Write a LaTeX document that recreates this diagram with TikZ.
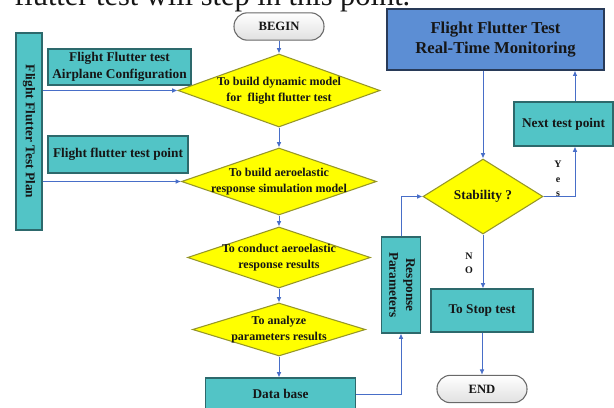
\documentclass[tikz,border=0pt]{standalone}
\usepackage{fontspec}
\setmainfont{Liberation Serif}
\usetikzlibrary{shapes.geometric,arrows.meta}
\definecolor{tealF}{RGB}{82,196,198}
\definecolor{tealB}{RGB}{45,105,108}
\definecolor{yelF}{RGB}{255,255,0}
\definecolor{yelB}{RGB}{150,150,40}
\definecolor{monF}{RGB}{92,142,212}
\definecolor{monB}{RGB}{40,58,88}
\definecolor{arr}{RGB}{72,110,200}
\definecolor{txt}{RGB}{22,22,22}
\definecolor{termB}{RGB}{105,105,105}
\begin{document}
\begin{tikzpicture}[x=0.75pt,y=-0.75pt,
  box/.style={draw=tealB, fill=tealF, line width=0.8pt, align=center, inner sep=1pt, text=txt,
    font=\fontsize{10}{12.5}\selectfont\bfseries},
  mon/.style={draw=monB, fill=monF, line width=0.9pt, align=center, inner sep=1pt, text=txt,
    font=\fontsize{12.5}{15}\selectfont\bfseries},
  dia/.style={diamond, draw=yelB, fill=yelF, line width=0.8pt, aspect=2.8, inner xsep=-20pt, inner ysep=-5pt,
    align=center, text=txt, font=\fontsize{9}{12}\selectfont\bfseries},
  term/.style={draw=termB, line width=0.8pt, rounded corners=10pt, top color=white, bottom color=black!12,
    minimum width=67.5pt, minimum height=20.5pt, inner sep=1pt, text=txt,
    font=\fontsize{9.5}{11}\selectfont\bfseries},
  conn/.style={draw=arr, line width=0.7pt, -{Latex[length=4pt,width=3.5pt]}},
  lbl/.style={align=center, inner sep=0pt, text=txt, font=\fontsize{7.5}{11}\selectfont\bfseries}]
\useasboundingbox (0,0) rectangle (614,407);
\clip (0,0) rectangle (614,407);
\fill[white] (0,0) rectangle (614,407);

\node[anchor=base west, inner sep=0pt, text=txt, font=\fontsize{22.8}{24}\selectfont] (cap) at (14,5) {flutter test will step in this point.};

% left column
\node[box, minimum width=19.5pt, minimum height=147.75pt] (plan) at (29,131.5) {\rotatebox{-90}{Flight Flutter Test Plan}};
\node[box, minimum width=107.25pt, minimum height=27pt] (conf) at (119.5,67) {Flight Flutter test\\Airplane Configuration};
\node[box, minimum width=105pt, minimum height=27.75pt] (tpt) at (118,154.5) {Flight flutter test point};

% main column
\node[term] (begin) at (279,26.5) {BEGIN};
\node[dia, minimum width=151.5pt, minimum height=54.75pt] (d1) at (279,90.5) {To build dynamic model\\for\ \ flight flutter test};
\node[dia, minimum width=146.25pt, minimum height=50.25pt] (d2) at (279,181.5) {To build aeroelastic\\response simulation model};
\node[dia, minimum width=137.25pt, minimum height=45.75pt] (d3) at (279,257.5) {To conduct aeroelastic\\response results};
\node[dia, minimum width=129.75pt, minimum height=39.75pt] (d4) at (279,329.5) {To analyze\\parameters results};
\node[box, minimum width=112.5pt, minimum height=24pt] (db) at (280.5,394) {Data base};

% right part
\node[box, minimum width=29.25pt, minimum height=72pt] (resp) at (401,285) {\rotatebox{-90}{\begin{tabular}{@{}c@{}}Response\\Parameters\end{tabular}}};
\node[mon, minimum width=162.75pt, minimum height=45.75pt] (mon) at (495.5,39.5) {Flight Flutter Test\\Real-Time Monitoring};
\node[dia, minimum width=90pt, minimum height=56.25pt, font=\fontsize{10}{12}\selectfont\bfseries] (stab) at (483,196.5) {Stability ?};
\node[box, minimum width=74.25pt, minimum height=33pt] (next) at (563.5,124) {Next test point};
\node[box, minimum width=76.5pt, minimum height=32.25pt] (stop) at (482,310.5) {To Stop test};
\node[term] (end) at (482,389) {END};

\node[lbl] (yes) at (558,179) {Y\\e\\s};
\node[lbl, font=\fontsize{7.5}{10.5}\selectfont\bfseries] (no) at (469,263) {N\\O};

\coordinate (ycol) at (575,124);

% connectors
\draw[conn] (begin) -- (d1);
\draw[conn] (d1) -- (d2);
\draw[conn] (d2) -- (d3);
\draw[conn] (d3) -- (d4);
\draw[conn] (d4.south) -- (d4.south |- db.north);
\draw[conn] (plan.east |- d1.west) -- (d1.west);
\draw[conn] (plan.east |- d2.west) -- (d2.west);
\draw[conn] (db.east) -| (resp.south);
\draw[conn] (resp.north) |- (stab.west);
\draw[conn] (mon.south -| stab.north) -- (stab.north);
\draw[conn] (stab.east) -| (ycol |- next.south);
\draw[conn] (ycol |- next.north) -- (ycol |- mon.south);
\draw[conn] (stab.south) -- (stab.south |- stop.north);
\draw[conn] (stop.south) -- (end.north);
\end{tikzpicture}
\end{document}
